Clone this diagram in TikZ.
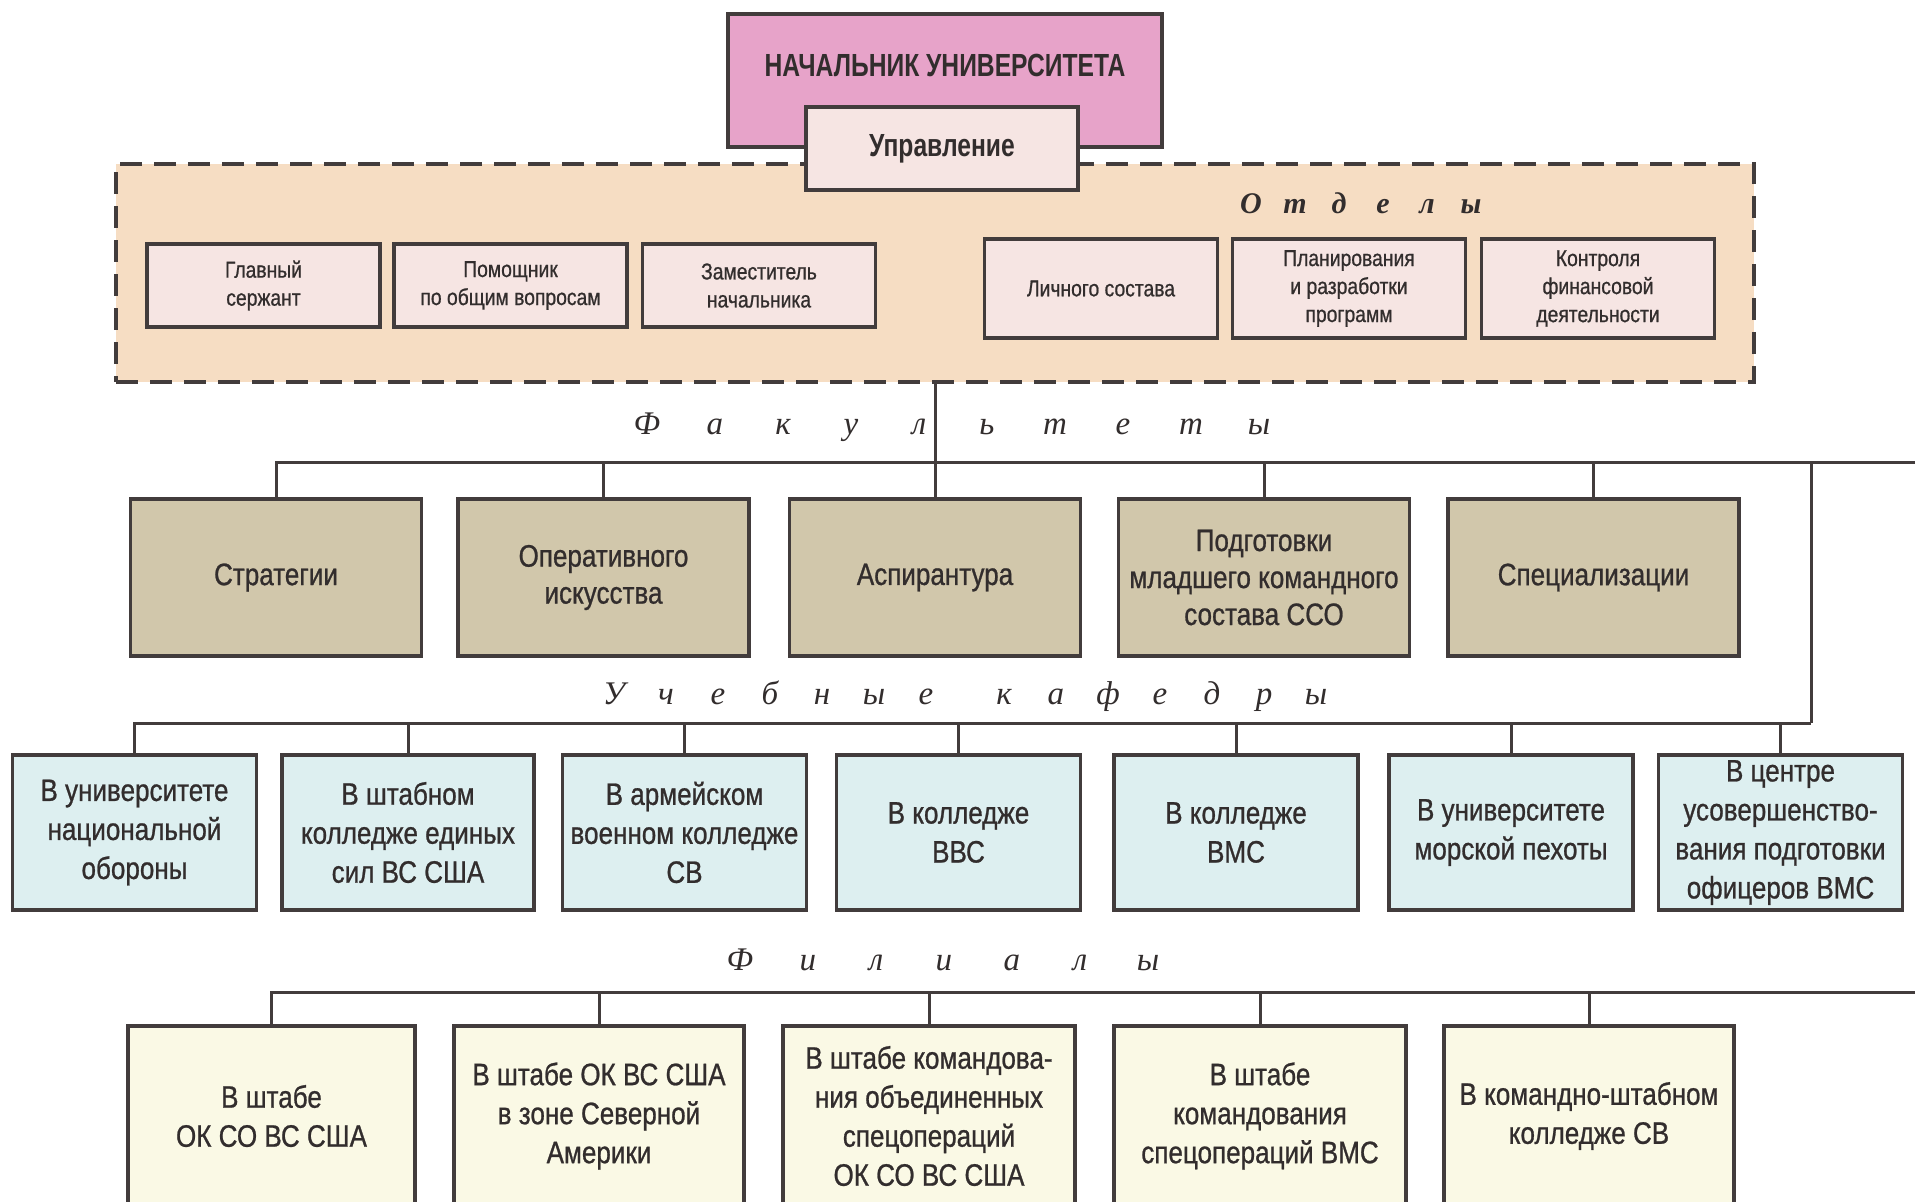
\documentclass[tikz,border=0pt]{standalone}
\usepackage{fontspec}
\setmainfont{Liberation Sans}
\newfontfamily\cond{Liberation Sans}[FakeStretch=0.84,FakeBold=0.8]
\newfontfamily\condhead{Liberation Sans}[FakeStretch=0.77]
\newfontfamily\lbl{Liberation Serif}
\definecolor{linec}{RGB}{66,60,60}
\definecolor{txtc}{RGB}{50,45,45}
\definecolor{headc}{RGB}{231,163,201}
\definecolor{lightc}{RGB}{246,229,227}
\definecolor{peach}{RGB}{246,221,195}
\definecolor{facc}{RGB}{209,199,171}
\definecolor{kafc}{RGB}{221,239,240}
\definecolor{filc}{RGB}{250,249,229}
\newlength\slot
\newcommand\ltr[1]{\makebox[\slot]{#1}}
\tikzset{
 box/.style={draw=linec, line width=3.3pt, text=txtc, align=center, inner sep=0pt},
 headbox/.style={box, fill=headc, minimum width=434pt, minimum height=133pt},
 uprbox/.style={box, fill=lightc, minimum width=272pt, minimum height=83pt, font=\condhead\bfseries\fontsize{32}{36}\selectfont},
 deptA/.style={box, fill=lightc, minimum width=233pt, minimum height=83pt, font=\cond\fontsize{23}{28}\selectfont},
 deptB/.style={deptA, minimum height=99pt},
 facbox/.style={box, fill=facc, minimum width=291pt, minimum height=157pt, font=\cond\fontsize{31}{37}\selectfont},
 kafbox/.style={box, fill=kafc, minimum width=244pt, minimum height=155pt, font=\cond\fontsize{31}{39}\selectfont},
 filbox/.style={box, fill=filc, minimum width=290pt, minimum height=180pt, font=\cond\fontsize{31}{39}\selectfont},
 conn/.style={draw=linec, line width=3pt},
 lab/.style={text=txtc, inner sep=0pt, font=\lbl\itshape\fontsize{33}{36}\selectfont},
}
\begin{document}
\begin{tikzpicture}[x=1pt,y=-1pt]
\useasboundingbox (0,0) rectangle (1915,1202);
\clip (0,0) rectangle (1915,1202);
\fill[white] (0,0) rectangle (1915,1202);
% Offices region
\node[draw=linec, line width=4pt, dash pattern=on 22pt off 12pt, fill=peach, minimum width=1638pt, minimum height=218pt, inner sep=0pt] (dept) at (935,273) {};
\node[headbox, label={[font=\condhead\bfseries\fontsize{32}{36}\selectfont, text=txtc, yshift=15.5pt]center:НАЧАЛЬНИК УНИВЕРСИТЕТА}] (head) at (945,80.5) {};
\node[uprbox] (upr) at (942,148.5) {Управление};
\node[lab, font=\lbl\bfseries\itshape\fontsize{30}{34}\selectfont] (otd) at (1361,203) {\setlength{\slot}{44pt}\ltr{О}\ltr{т}\ltr{д}\ltr{е}\ltr{л}\ltr{ы}};
\node[deptA] (d1) at (263.5,285.5) {Главный\\сержант};
\node[deptA] (d2) at (510.5,285.5) {Помощник\\по общим вопросам};
\node[deptA] (d3) at (759,285.5) {Заместитель\\начальника};
\node[deptB] (d4) at (1101,288.5) {Личного состава};
\node[deptB] (d5) at (1349,288.5) {Планирования\\и разработки\\программ};
\node[deptB] (d6) at (1598,288.5) {Контроля\\финансовой\\деятельности};
% Faculties
\node[lab] (lfac) at (953,427) {\setlength{\slot}{68pt}\ltr{Ф}\ltr{а}\ltr{к}\ltr{у}\ltr{л}\ltr{ь}\ltr{т}\ltr{е}\ltr{т}\ltr{ы}};
\node[facbox] (strat) at (276,577.5) {Стратегии};
\node[facbox] (oper) at (603.5,577.5) {Оперативного\\искусства};
\node[facbox] (asp) at (935,577.5) {Аспирантура};
\node[facbox] (podg) at (1264,577.5) {Подготовки\\младшего командного\\состава ССО};
\node[facbox] (spec) at (1593.5,577.5) {Специализации};
\coordinate (fR) at (1915,462);
\draw[conn] (dept.south) -- (asp.north);
\draw[conn] (strat.north) |- (fR);
\foreach \n in {oper,podg,spec} \draw[conn] (\n.north) -- (\n.north |- fR);
% Departments (kafedry)
\node[lab] (lkaf) at (965,696) {\setlength{\slot}{52pt}\ltr{У}\ltr{ч}\ltr{е}\ltr{б}\ltr{н}\ltr{ы}\ltr{е}\hspace{26pt}\ltr{к}\ltr{а}\ltr{ф}\ltr{е}\ltr{д}\ltr{р}\ltr{ы}};
\node[kafbox] (k1) at (134.5,832.5) {В университете\\национальной\\обороны};
\node[kafbox, minimum width=252pt] (k2) at (408,832.5) {В штабном\\колледже единых\\сил ВС США};
\node[kafbox] (k3) at (684.5,832.5) {В армейском\\военном колледже\\СВ};
\node[kafbox] (k4) at (958.5,832.5) {В колледже\\ВВС};
\node[kafbox] (k5) at (1236,832.5) {В колледже\\ВМС};
\node[kafbox] (k6) at (1511,832.5) {В университете\\морской пехоты};
\node[kafbox] (k7) at (1780.5,832.5) {В центре\\усовершенство-\\вания подготовки\\офицеров ВМС};
\coordinate (kR) at (1811,723);
\draw[conn] (kR) -- (kR |- fR);
\draw[conn] (k1.north) |- (kR);
\foreach \n in {k2,k3,k4,k5,k6,k7} \draw[conn] (\n.north) -- (\n.north |- kR);
% Branches
\node[lab] (lfil) at (944,960) {\setlength{\slot}{68pt}\ltr{Ф}\ltr{и}\ltr{л}\ltr{и}\ltr{а}\ltr{л}\ltr{ы}};
\node[filbox, minimum width=287pt] (f1) at (271.5,1116) {В штабе\\ОК СО ВС США};
\node[filbox] (f2) at (599,1116) {В штабе ОК ВС США\\в зоне Северной\\Америки};
\node[filbox, minimum width=292pt] (f3) at (929,1116) {В штабе командова-\\ния объединенных\\спецопераций\\ОК СО ВС США};
\node[filbox, minimum width=292pt] (f4) at (1260,1116) {В штабе\\командования\\спецопераций ВМС};
\node[filbox] (f5) at (1589,1116) {В командно-штабном\\колледже СВ};
\coordinate (filR) at (1915,992);
\draw[conn] (f1.north) |- (filR);
\foreach \n in {f2,f3,f4,f5} \draw[conn] (\n.north) -- (\n.north |- filR);
\end{tikzpicture}
\end{document}
